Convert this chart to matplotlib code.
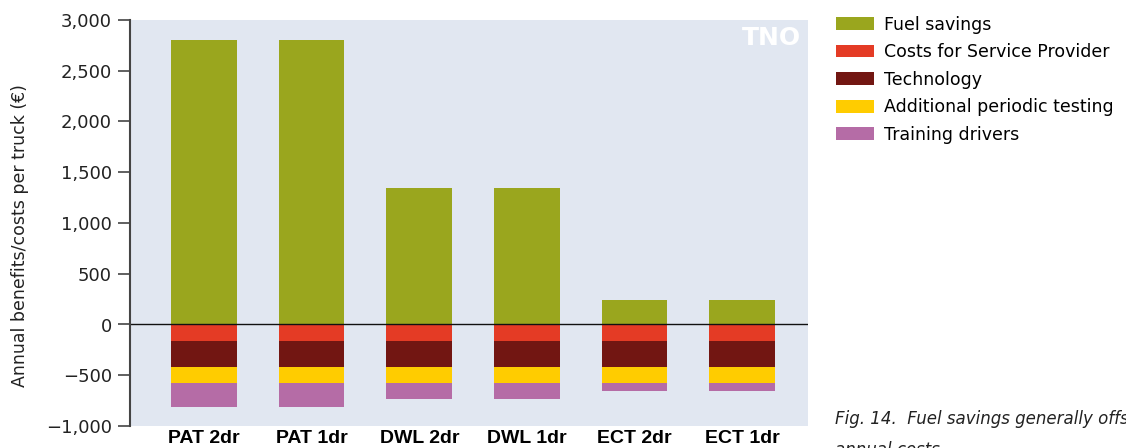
import numpy as np
import matplotlib
matplotlib.use('Agg')
import matplotlib.pyplot as plt
#
categories = ['PAT 2dr', 'PAT 1dr', 'DWL 2dr', 'DWL 1dr', 'ECT 2dr', 'ECT 1dr']
fuel_savings = [2800, 2800, 1340, 1340, 240, 240]
service_provider = [-160, -160, -160, -160, -160, -160]
technology = [-260, -260, -260, -260, -260, -260]
periodic_testing = [-160, -160, -160, -160, -160, -160]
training_drivers = [-235, -235, -150, -150, -75, -75]
yticks = [-1000, -500, 0, 500, 1000, 1500, 2000, 2500, 3000]
#
plt.rcParams['font.family'] = ['DejaVu Sans']
col_fuel = '#9aa61e'
col_serv = '#e43b25'
col_tech = '#721612'
col_test = '#ffcc00'
col_train = '#b56ca6'
#----- figure
fig = plt.figure(figsize=(11.26, 4.48), dpi=100)
ax = fig.add_axes([130/1126, 1 - 426/448, 678/1126, 406/448])
ax.set_facecolor('#e1e7f1')
#
x = np.arange(len(categories))
w = 0.61
b1 = ax.bar(x, fuel_savings, w, color=col_fuel, label='Fuel savings')
neg = np.zeros(len(categories))
b2 = ax.bar(x, service_provider, w, bottom=neg, color=col_serv, label='Costs for Service Provider')
neg = neg + np.array(service_provider)
b3 = ax.bar(x, technology, w, bottom=neg, color=col_tech, label='Technology')
neg = neg + np.array(technology)
b4 = ax.bar(x, periodic_testing, w, bottom=neg, color=col_test, label='Additional periodic testing')
neg = neg + np.array(periodic_testing)
b5 = ax.bar(x, training_drivers, w, bottom=neg, color=col_train, label='Training drivers')
#
ax.axhline(0, color='#111111', lw=1.0)
ax.set_xlim(-0.687, 5.61)
ax.set_ylim(-1000, 3000)
ax.set_yticks(yticks)
ax.set_yticklabels(['\u22121,000' if v == -1000 else ('\u2212500' if v == -500 else f'{v:,}') for v in yticks],
                   fontsize=13, color='#222222')
ax.set_xticks(x)
ax.set_xticklabels(categories, fontsize=14, fontweight='bold',
                   family=['Liberation Sans Narrow', 'Liberation Sans', 'DejaVu Sans'])
ax.tick_params(axis='x', length=0, pad=3)
ax.tick_params(axis='y', length=9, width=1.2, color='#444444', pad=4)
for s in ['top', 'right', 'bottom']:
    ax.spines[s].set_visible(False)
ax.spines['left'].set_color('#444444')
ax.spines['left'].set_linewidth(1.5)
ax.set_ylabel('Annual benefits/costs per truck (\u20ac)', fontsize=12.5, color='#222222')
ax.yaxis.set_label_coords(-0.149, 0.468)
#
ax.text(0.99, 0.985, 'TNO', transform=ax.transAxes, ha='right', va='top',
        color='white', fontsize=18, fontweight='heavy')
#
fig.legend(handles=[b1, b2, b3, b4, b5], loc='upper left', bbox_to_anchor=(820/1126, 1.0),
           frameon=False, fontsize=12.5, handlelength=2.2, handleheight=0.75,
           handletextpad=0.6, labelspacing=0.55)
#
fig.text(835/1126, 1 - 410/448, 'Fig. 14.  Fuel savings generally offset the\nannual costs',
         fontsize=12, style='italic', va='top', ha='left', color='#222222', linespacing=1.9)
#
plt.savefig('out.png', dpi=100)
